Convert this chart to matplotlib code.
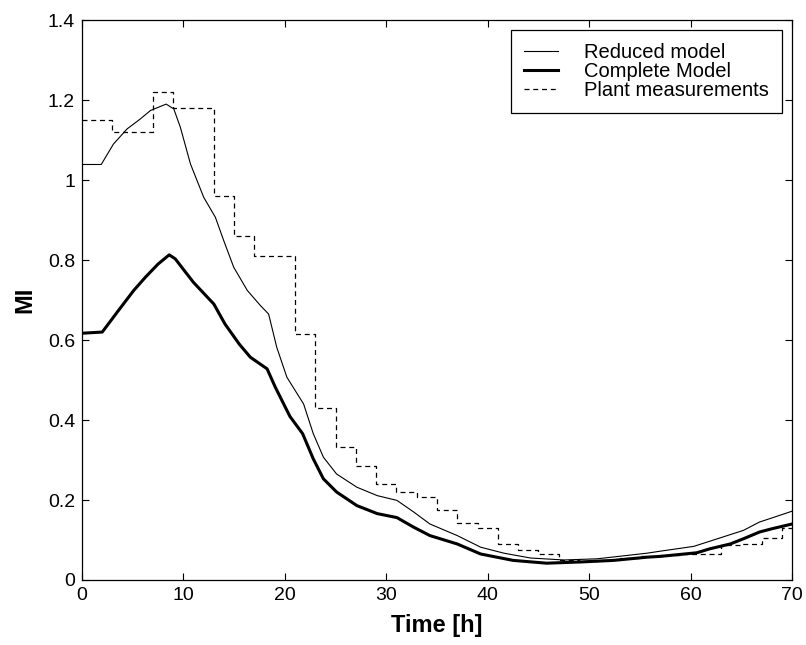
import numpy as np
import matplotlib.pyplot as plt
from matplotlib.ticker import FuncFormatter

plt.rcParams['font.family'] = ['Liberation Sans', 'DejaVu Sans']

# Plant measurements (step edges in hours, value held until next edge)
plant_t = [0, 3, 7, 9, 13, 15, 17, 21, 23, 25, 27, 29, 31, 33, 35, 37, 39, 41,
           43, 45, 47, 49, 51, 53, 55, 57, 59, 61, 63, 65, 67, 69, 70]
plant_mi = [1.15, 1.12, 1.22, 1.18, 0.96, 0.86, 0.81, 0.615, 0.43, 0.332, 0.286,
            0.24, 0.221, 0.207, 0.175, 0.142, 0.131, 0.09, 0.075, 0.065, 0.05,
            0.048, 0.05, 0.055, 0.06, 0.062, 0.065, 0.065, 0.088, 0.09, 0.105,
            0.13, 0.13]

# Reduced model
reduced_t = [0, 1.9, 3.1, 4.45, 5.76, 6.75, 8.3, 9.05, 9.7, 10.7, 12.0, 13.15,
             13.97, 14.96, 16.3, 17.6, 18.4, 19.2, 20.2, 21.85, 22.8, 23.8,
             25.1, 27.1, 29.1, 31.05, 32.7, 34.3, 37.0, 39.3, 41.6, 44.2, 47.5,
             50.8, 55.7, 57.0, 60.3, 61.9, 65.2, 66.8, 68.0, 70.0]
reduced_mi = [1.039, 1.039, 1.09, 1.128, 1.153, 1.174, 1.19, 1.178, 1.132, 1.04,
              0.957, 0.907, 0.849, 0.782, 0.724, 0.686, 0.665, 0.582, 0.507,
              0.44, 0.366, 0.307, 0.265, 0.232, 0.211, 0.199, 0.17, 0.14, 0.111,
              0.082, 0.067, 0.055, 0.05, 0.053, 0.067, 0.072, 0.084, 0.097,
              0.124, 0.145, 0.155, 0.172]

# Complete model
complete_t = [0, 2.0, 3.6, 5.1, 6.25, 7.5, 8.6, 9.2, 10.2, 11.0, 13.0, 14.1,
              15.5, 16.6, 18.25, 19.06, 20.5, 21.75, 22.8, 23.8, 25.1, 27.1,
              29.1, 31.05, 32.7, 34.3, 37.0, 39.3, 42.5, 45.8, 49.1, 52.4, 55.7,
              57.0, 60.6, 61.9, 63.9, 65.2, 66.8, 68.0, 70.0]
complete_mi = [0.617, 0.62, 0.674, 0.724, 0.757, 0.79, 0.813, 0.803, 0.77, 0.744,
               0.69, 0.64, 0.59, 0.557, 0.528, 0.482, 0.409, 0.366, 0.303, 0.253,
               0.22, 0.186, 0.166, 0.156, 0.132, 0.111, 0.09, 0.065, 0.049,
               0.042, 0.045, 0.049, 0.057, 0.059, 0.068, 0.078, 0.09, 0.103,
               0.12, 0.128, 0.14]

fig = plt.figure(figsize=(8.06, 6.45), dpi=100)
ax = fig.add_axes([0.1017, 0.1008, 0.881, 0.868])

ax.plot(reduced_t, reduced_mi, color='black', lw=0.8, label='Reduced model')
ax.plot(complete_t, complete_mi, color='black', lw=2.2, label='Complete Model')
ax.step(plant_t, plant_mi, where='post', color='black', lw=0.9,
        linestyle=(0, (4, 3)), label='Plant measurements')

ax.set_xlim(0, 70)
ax.set_ylim(0, 1.4)
ax.set_xticks(np.arange(0, 71, 10))
ax.set_yticks(np.arange(0, 1.41, 0.2))
ax.yaxis.set_major_formatter(FuncFormatter(lambda v, p: f'{v:g}'))
ax.tick_params(direction='in', top=True, right=True, length=5, width=0.8,
               labelsize=14, pad=5)
for s in ax.spines.values():
    s.set_linewidth(0.9)

ax.set_xlabel('Time [h]', fontsize=17, fontweight='bold', labelpad=7)
ax.set_ylabel('MI', fontsize=17, fontweight='bold', labelpad=8)

leg = ax.legend(loc='upper right', fontsize=14.5, fancybox=False, framealpha=1,
                edgecolor='black', labelspacing=0.0, borderaxespad=0.5,
                handlelength=1.7, handletextpad=1.3, borderpad=0.65)
leg.get_frame().set_linewidth(0.9)

fig.savefig('out.png', dpi=100)
